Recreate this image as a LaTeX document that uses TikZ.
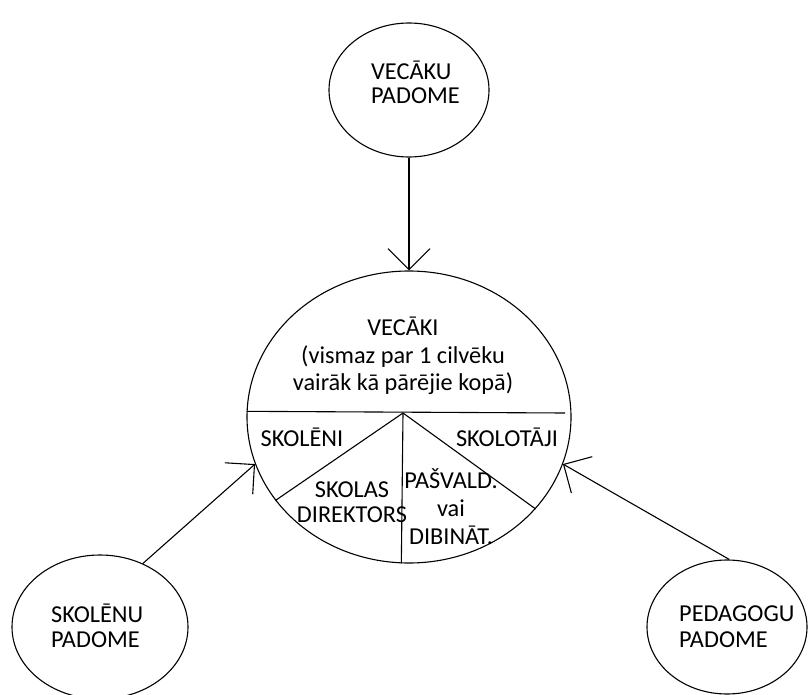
\documentclass[tikz,border=0pt]{standalone}
\usepackage{fontspec}
\setmainfont{Carlito}
\usetikzlibrary{arrows.meta,shapes.geometric}
\begin{document}
\begin{tikzpicture}[x=1pt,y=-1pt,
  bub/.style={draw,ellipse,line width=1.1pt,inner sep=0pt},
  lbl/.style={font=\fontsize{24.3}{26}\selectfont,align=center,inner sep=0pt},
  lbll/.style={font=\fontsize{24.3}{25}\selectfont,align=left,inner sep=0pt,anchor=west},
  conn/.style={line width=1.1pt,-{Straight Barb[length=21pt,width=42pt]}},
  div/.style={line width=1.1pt}]
\useasboundingbox (0,0) rectangle (808,695);
% ellipses
\node[bub,minimum width=160pt,minimum height=134pt] (vp) at (409,90) {};
\node[bub,minimum width=324pt,minimum height=292pt] (c) at (409,417) {};
\node[bub,minimum width=176pt,minimum height=144pt] (skp) at (100,627) {};
\node[bub,minimum width=160pt,minimum height=134pt] (pp) at (727,627) {};
% texts
\node[lbll,font=\fontsize{24.3}{24}\selectfont] (tvp) at (371,82) {VECĀKU\\PADOME};
\node[lbll] (tskp) at (51,626) {SKOLĒNU\\PADOME};
\node[lbll,font=\fontsize{24.3}{26}\selectfont] (tpp) at (679,627) {PEDAGOGU\\PADOME};
\node[lbl,font=\fontsize{24.3}{27.5}\selectfont] (tv) at (403,356) {VECĀKI\\(vismaz par 1 cilvēku\\vairāk kā pārējie kopā)};
\node[lbl] (ts1) at (302,437) {SKOLĒNI};
\node[lbl] (ts2) at (507,437) {SKOLOTĀJI};
\node[lbl,font=\fontsize{24.3}{25}\selectfont] (ts3) at (352,502) {SKOLAS\\DIREKTORS};
\node[lbl,font=\fontsize{24.3}{28}\selectfont] (ts4) at (451,507) {PAŠVALD.\\vai\\DIBINĀT.};
% dividing lines
\coordinate (hub) at (403,413);
\coordinate (hr) at (565,413);
\draw[div] (c.178.6) -- (hr);
\draw[div] (hub) -- (c.267.3);
\draw[div] (hub) -- (c.212.2);
\draw[div] (hub) -- (c.324.7);
% arrows
\draw[conn] (vp.south) -- (c.north);
\draw[conn] (skp.56) -- (c.197.4);
\draw[conn] (pp.88) -- (c.343.5);
\end{tikzpicture}
\end{document}
